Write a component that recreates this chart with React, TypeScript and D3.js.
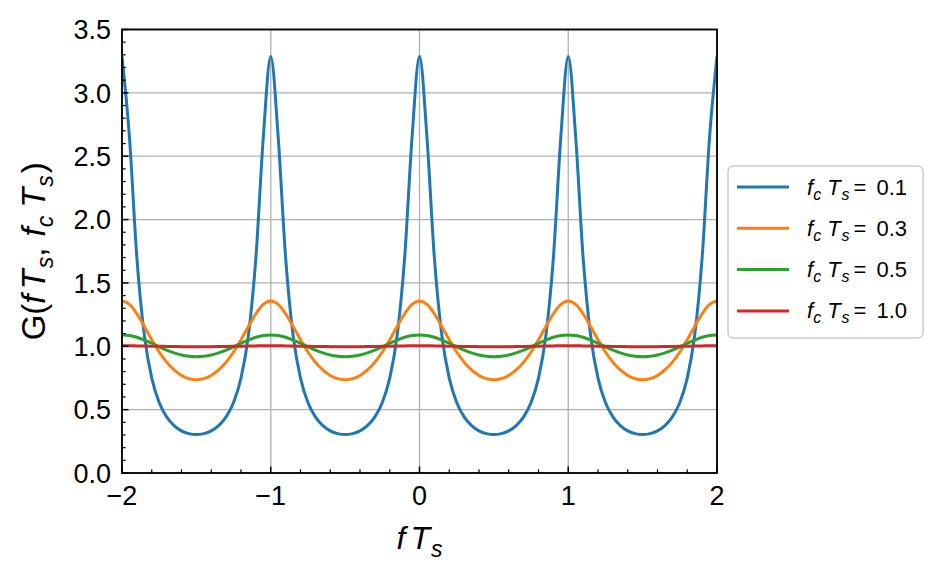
import React from "react";
import * as d3 from "d3";

// fTs sample grid (step 0.05) from -2 to 2
const fTs = d3.range(0, 81).map((i) => Math.round((-2 + i * 0.05) * 100) / 100);

// G values at each fTs sample
const g01 = [
  3.287, 2.651, 1.698, 1.088, 0.749, 0.557, 0.443, 0.374, 0.333, 0.311, 0.304, 0.311, 0.333, 0.374, 0.443, 0.557, 0.749, 1.088, 1.698, 2.651,
  3.287, 2.651, 1.698, 1.088, 0.749, 0.557, 0.443, 0.374, 0.333, 0.311, 0.304, 0.311, 0.333, 0.374, 0.443, 0.557, 0.749, 1.088, 1.698, 2.651,
  3.287, 2.651, 1.698, 1.088, 0.749, 0.557, 0.443, 0.374, 0.333, 0.311, 0.304, 0.311, 0.333, 0.374, 0.443, 0.557, 0.749, 1.088, 1.698, 2.651,
  3.287, 2.651, 1.698, 1.088, 0.749, 0.557, 0.443, 0.374, 0.333, 0.311, 0.304, 0.311, 0.333, 0.374, 0.443, 0.557, 0.749, 1.088, 1.698, 2.651,
  3.287,
];
const g03 = [
  1.358, 1.331, 1.257, 1.157, 1.051, 0.955, 0.875, 0.813, 0.77, 0.745, 0.736, 0.745, 0.77, 0.813, 0.875, 0.955, 1.051, 1.157, 1.257, 1.331,
  1.358, 1.331, 1.257, 1.157, 1.051, 0.955, 0.875, 0.813, 0.77, 0.745, 0.736, 0.745, 0.77, 0.813, 0.875, 0.955, 1.051, 1.157, 1.257, 1.331,
  1.358, 1.331, 1.257, 1.157, 1.051, 0.955, 0.875, 0.813, 0.77, 0.745, 0.736, 0.745, 0.77, 0.813, 0.875, 0.955, 1.051, 1.157, 1.257, 1.331,
  1.358, 1.331, 1.257, 1.157, 1.051, 0.955, 0.875, 0.813, 0.77, 0.745, 0.736, 0.745, 0.77, 0.813, 0.875, 0.955, 1.051, 1.157, 1.257, 1.331,
  1.358,
];
const g05 = [
  1.09, 1.085, 1.071, 1.049, 1.024, 0.996, 0.97, 0.948, 0.931, 0.921, 0.917, 0.921, 0.931, 0.948, 0.97, 0.996, 1.024, 1.049, 1.071, 1.085,
  1.09, 1.085, 1.071, 1.049, 1.024, 0.996, 0.97, 0.948, 0.931, 0.921, 0.917, 0.921, 0.931, 0.948, 0.97, 0.996, 1.024, 1.049, 1.071, 1.085,
  1.09, 1.085, 1.071, 1.049, 1.024, 0.996, 0.97, 0.948, 0.931, 0.921, 0.917, 0.921, 0.931, 0.948, 0.97, 0.996, 1.024, 1.049, 1.071, 1.085,
  1.09, 1.085, 1.071, 1.049, 1.024, 0.996, 0.97, 0.948, 0.931, 0.921, 0.917, 0.921, 0.931, 0.948, 0.97, 0.996, 1.024, 1.049, 1.071, 1.085,
  1.09,
];
const g10 = [
  1.004, 1.004, 1.003, 1.002, 1.001, 1.0, 0.999, 0.998, 0.997, 0.996, 0.996, 0.996, 0.997, 0.998, 0.999, 1.0, 1.001, 1.002, 1.003, 1.004,
  1.004, 1.004, 1.003, 1.002, 1.001, 1.0, 0.999, 0.998, 0.997, 0.996, 0.996, 0.996, 0.997, 0.998, 0.999, 1.0, 1.001, 1.002, 1.003, 1.004,
  1.004, 1.004, 1.003, 1.002, 1.001, 1.0, 0.999, 0.998, 0.997, 0.996, 0.996, 0.996, 0.997, 0.998, 0.999, 1.0, 1.001, 1.002, 1.003, 1.004,
  1.004, 1.004, 1.003, 1.002, 1.001, 1.0, 0.999, 0.998, 0.997, 0.996, 0.996, 0.996, 0.997, 0.998, 0.999, 1.0, 1.001, 1.002, 1.003, 1.004,
  1.004,
];

const seriesLabels = ["0.1", "0.3", "0.5", "1.0"];
const seriesValues = [g01, g03, g05, g10];
const colors = ["#1f77b4", "#ff7f0e", "#2ca02c", "#d62728"];

const xMajor = [-2, -1, 0, 1, 2];
const xMajorLabels = ["\u22122", "\u22121", "0", "1", "2"];
const yMajor = [0, 0.5, 1, 1.5, 2, 2.5, 3, 3.5];
const yMajorLabels = ["0.0", "0.5", "1.0", "1.5", "2.0", "2.5", "3.0", "3.5"];

const W = 941;
const H = 583;
const font = "'Liberation Sans', Arial, sans-serif";

export default function App() {
  const x = d3.scaleLinear().domain([-2, 2]).range([122, 717]);
  const y = d3.scaleLinear().domain([0, 3.5]).range([473, 29.5]);

  const xMinor = d3.range(-20, 21, 2).map((v) => v / 10).filter((v) => !xMajor.includes(v));
  const yMinor = d3.range(0, 36).map((v) => v / 10).filter((v) => !yMajor.some((m) => Math.abs(m - v) < 1e-9));

  const line = (vals: number[]) =>
    d3
      .line<number>()
      .x((_, i) => x(fTs[i]))
      .y((d) => y(d))
      .curve(d3.curveMonotoneX)(vals) || "";

  const [x0, x1] = x.range();
  const [y0, y1] = y.range();

  return (
    <svg width={W} height={H} style={{ position: "absolute", left: 0, top: 0, background: "#fff" }}>
      <defs>
        <clipPath id="plot">
          <rect x={x0} y={y1} width={x1 - x0} height={y0 - y1} />
        </clipPath>
      </defs>

      {/* grid */}
      {xMajor.map((v) => (
        <line key={"gx" + v} x1={x(v)} x2={x(v)} y1={y1} y2={y0} stroke="#b0b0b0" strokeWidth={1.3} />
      ))}
      {yMajor.map((v) => (
        <line key={"gy" + v} x1={x0} x2={x1} y1={y(v)} y2={y(v)} stroke="#b0b0b0" strokeWidth={1.3} />
      ))}

      {/* series */}
      <g clipPath="url(#plot)">
        {seriesValues.map((vals, i) => (
          <path key={i} d={line(vals)} fill="none" stroke={colors[i]} strokeWidth={3} strokeLinejoin="round" />
        ))}
      </g>

      {/* ticks, inward on left and bottom */}
      {xMajor.map((v) => (
        <line key={"tx" + v} x1={x(v)} x2={x(v)} y1={y0} y2={y0 - 6.5} stroke="#000" strokeWidth={1.5} />
      ))}
      {xMinor.map((v) => (
        <line key={"mx" + v} x1={x(v)} x2={x(v)} y1={y0} y2={y0 - 3.7} stroke="#000" strokeWidth={1.2} />
      ))}
      {yMajor.map((v) => (
        <line key={"ty" + v} x1={x0} x2={x0 + 6.5} y1={y(v)} y2={y(v)} stroke="#000" strokeWidth={1.5} />
      ))}
      {yMinor.map((v) => (
        <line key={"my" + v} x1={x0} x2={x0 + 3.7} y1={y(v)} y2={y(v)} stroke="#000" strokeWidth={1.2} />
      ))}

      {/* frame */}
      <rect x={x0} y={y1} width={x1 - x0} height={y0 - y1} fill="none" stroke="#000" strokeWidth={1.8} />

      {/* tick labels */}
      {xMajor.map((v, i) => (
        <text key={"lx" + v} x={x(v)} y={505} textAnchor="middle" fontFamily={font} fontSize={27} fill="#000">
          {xMajorLabels[i]}
        </text>
      ))}
      {yMajor.map((v, i) => (
        <text key={"ly" + v} x={111} y={y(v)} dy="0.36em" textAnchor="end" fontFamily={font} fontSize={27} fill="#000">
          {yMajorLabels[i]}
        </text>
      ))}

      {/* axis labels */}
      <text x={(x0 + x1) / 2} y={549} textAnchor="middle" fontFamily={font} fontSize={32} fill="#000">
        <tspan fontStyle="italic">f</tspan>
        <tspan fontStyle="italic" dx={5}>T</tspan>
        <tspan fontStyle="italic" fontSize={23} dy={8} dx={1}>s</tspan>
      </text>
      <text
        transform={`translate(45,${(y0 + y1) / 2}) rotate(-90)`}
        textAnchor="middle"
        fontFamily={font}
        fontSize={33}
        fill="#000"
      >
        <tspan>G(</tspan>
        <tspan fontStyle="italic">f</tspan>
        <tspan fontStyle="italic" dx={5}>T</tspan>
        <tspan fontStyle="italic" fontSize={23} dy={8} dx={1}>s</tspan>
        <tspan dy={-8}>, </tspan>
        <tspan fontStyle="italic" dx={2}>f</tspan>
        <tspan fontStyle="italic" fontSize={23} dy={8}>c</tspan>
        <tspan fontStyle="italic" dy={-8} dx={8}>T</tspan>
        <tspan fontStyle="italic" fontSize={23} dy={8} dx={1}>s</tspan>
        <tspan dy={-8} dx={2}>)</tspan>
      </text>

      {/* legend */}
      <rect x={728} y={166} width={195} height={172} rx={5} fill="#fff" stroke="#cccccc" strokeWidth={1.5} />
      {seriesLabels.map((lab, i) => {
        const ly = 187 + i * 41.3;
        return (
          <g key={"lg" + lab}>
            <line x1={737} x2={789} y1={ly} y2={ly} stroke={colors[i]} strokeWidth={3} />
            <text x={807} y={ly + 7.5} fontFamily={font} fontSize={22} fill="#000">
              <tspan fontStyle="italic">f</tspan>
              <tspan fontStyle="italic" fontSize={16} dy={5}>c</tspan>
              <tspan fontStyle="italic" dy={-5} dx={6}>T</tspan>
              <tspan fontStyle="italic" fontSize={16} dy={5} dx={1}>s</tspan>
              <tspan dy={-5} dx={4}>=</tspan>
              <tspan dx={10}>{lab}</tspan>
            </text>
          </g>
        );
      })}
    </svg>
  );
}
